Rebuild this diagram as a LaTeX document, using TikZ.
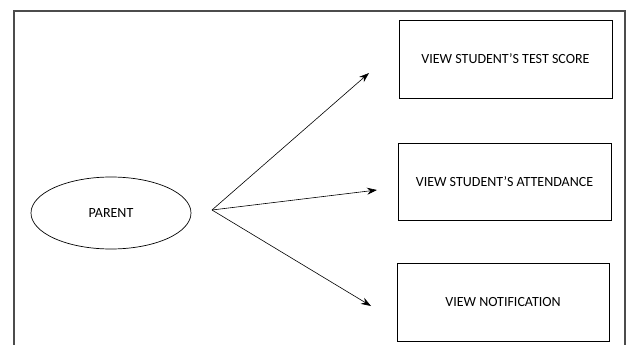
\documentclass[tikz,border=0pt]{standalone}
\usepackage{fontspec}
\setmainfont{Carlito}
\usepackage{tikz}
\usetikzlibrary{positioning}
\usetikzlibrary{shapes.geometric, arrows.meta}
\tikzstyle{arrow} = [semithick,-{Stealth[length=10pt,width=7pt]}]
\tikzstyle{viewbox} = [draw,line width=0.9pt,minimum width=213pt,minimum height=78pt,font=\fontsize{14}{16}\selectfont]

\begin{document}
\begin{tikzpicture}[x=1pt,y=-1pt]
	\useasboundingbox (0,0) rectangle (629,345);
	\draw[line width=1.4pt,black!70] (14,345) -- (14,11) -- (625,11) -- (625,345);
	\coordinate (start) at (212,210);
	
	%Nodes
	\node [draw,ellipse,line width=0.7pt,minimum width=160pt,minimum height=72pt,font=\fontsize{14}{16}\selectfont] (Parent) at (111,213) {PARENT};
	\node [viewbox] (Score) at (505.5,59) {VIEW STUDENT'S TEST SCORE};
	\node [viewbox,minimum height=77pt] (Attend) at (504.5,181.5) {VIEW STUDENT'S ATTENDANCE};
	\node [viewbox,minimum width=212pt] (Notif) at (503,302) {VIEW NOTIFICATION};
	\coordinate (e1) at (369,73);
	\coordinate (e2) at (377,190);
	\coordinate (e3) at (371,306);
	
	%Lines
	\draw[arrow] (start) -- (e1);
	\draw[arrow] (start) -- (e2);
	\draw[arrow] (start) -- (e3);
	
\end{tikzpicture}
\end{document}
